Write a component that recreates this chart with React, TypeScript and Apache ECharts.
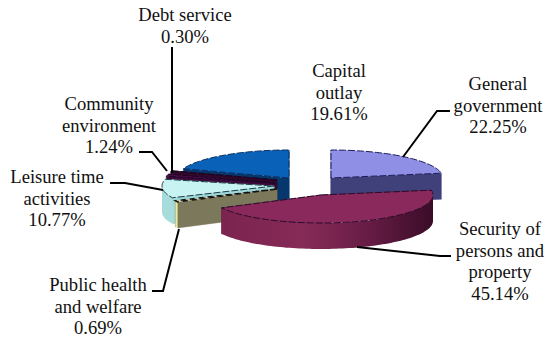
import React, { useEffect, useRef } from "react";
import * as echarts from "echarts";

// Share of expenditure per function, clockwise from twelve o'clock.
const names = [
  "General\ngovernment",
  "Security of\npersons and\nproperty",
  "Public health\nand welfare",
  "Leisure time\nactivities",
  "Community\nenvironment",
  "Debt service",
  "Capital\noutlay",
];
const shares = [22.25, 45.14, 0.69, 10.77, 1.24, 0.3, 19.61];

// Slices are painted back to front so nearer ones cover farther ones.
const paintOrder = [6, 5, 4, 0, 3, 2, 1];

const RX = 112;
const RY = 28;
const DEPTH = 26;
const FONT = "'Liberation Serif', 'Times New Roman', serif";

// Where each exploded slice has its apex on the page.
const apex: [number, number][] = [
  [331, 178],
  [321, 195],
  [277, 189],
  [274, 186],
  [275, 183],
  [277, 180],
  [289, 178],
];

type Look = {
  top: string;
  cut: string;
  rim: string | [string, number][];
  edge: string;
  dash: number[];
  width: number;
};
const looks: Look[] = [
  { top: "#8f8fe6", cut: "#40407a", rim: "#40407a", edge: "#1c1c5c", dash: [7, 2], width: 1 },
  {
    top: "#8a2a5c",
    cut: "#5c1a3e",
    rim: [
      ["#7c2450", 0],
      ["#862a58", 0.4],
      ["#661c44", 0.7],
      ["#3a0c28", 1],
    ],
    edge: "#2a0c2c",
    dash: [7, 2],
    width: 1,
  },
  { top: "#e8e8c8", cut: "#7c785c", rim: "#ecec9c", edge: "#141414", dash: [5, 4], width: 1.5 },
  { top: "#c8f3f3", cut: "#9ed8d8", rim: "#a6dcdc", edge: "#203c44", dash: [7, 2], width: 1 },
  { top: "#520c44", cut: "#3c0a3a", rim: "#3c0a3a", edge: "#1c0628", dash: [7, 2], width: 1 },
  { top: "#700a30", cut: "#300828", rim: "#300828", edge: "#1c0628", dash: [7, 2], width: 1 },
  { top: "#0a62b8", cut: "#06386e", rim: "#06386e", edge: "#062c60", dash: [7, 2], width: 1 },
];

// Label blocks: centre x and top of the block.
const labelPos: [number, number][] = [
  [498, 73],
  [500, 218],
  [98, 274],
  [57, 166],
  [109, 93],
  [185, 4],
  [339, 60],
];

const leaders: [number, number][][] = [
  [[403, 157], [437, 111], [450, 111]],
  [[357, 247], [440, 256], [451, 256]],
  [[179, 229], [163, 291], [152, 291]],
  [[110, 183], [125, 183], [163, 190]],
  [[139, 152], [152, 152], [167, 171]],
  [[172, 47], [172, 173]],
];

const starts = shares.map((_, i) => shares.slice(0, i).reduce((a, b) => a + b, 0));
const toAngle = (pct: number) => (pct / 100) * Math.PI * 2;

function rimPoint(c: [number, number], a: number, drop = 0): number[] {
  return [c[0] + RX * Math.sin(a), c[1] - RY * Math.cos(a) + drop];
}

function arc(c: [number, number], a0: number, a1: number, drop = 0): number[][] {
  const n = Math.max(2, Math.ceil(Math.abs(a1 - a0) / 0.03));
  const pts: number[][] = [];
  for (let i = 0; i <= n; i++) pts.push(rimPoint(c, a0 + ((a1 - a0) * i) / n, drop));
  return pts;
}

function drawSlice(params: any) {
  const idx = paintOrder[params.dataIndex];
  const c = apex[idx];
  const a0 = toAngle(starts[idx]);
  const a1 = toAngle(starts[idx] + shares[idx]);
  const look = looks[idx];
  const children: any[] = [];

  const cutWall = (a: number) => {
    const p = rimPoint(c, a);
    return {
      type: "polygon",
      shape: { points: [c, p, [p[0], p[1] + DEPTH], [c[0], c[1] + DEPTH]] },
      style: { fill: look.cut, stroke: look.cut, lineWidth: 0.5 },
    };
  };
  children.push(cutWall(a1), cutWall(a0));

  // Only the part of the rim facing the viewer shows.
  const r0 = Math.max(a0, Math.PI / 2);
  const r1 = Math.min(a1, (Math.PI * 3) / 2);
  if (r1 > r0) {
    const up = arc(c, r0, r1);
    const down = arc(c, r1, r0, DEPTH);
    const fill =
      typeof look.rim === "string"
        ? look.rim
        : new echarts.graphic.LinearGradient(
            up[up.length - 1][0],
            0,
            up[0][0],
            0,
            look.rim.map(([color, offset]) => ({ color, offset })),
            true,
          );
    children.push({
      type: "polygon",
      shape: { points: [...up, ...down] },
      style: { fill, stroke: "none" },
    });
  }

  children.push({
    type: "polygon",
    shape: { points: [c, ...arc(c, a0, a1)] },
    style: { fill: look.top, stroke: look.edge, lineWidth: look.width, lineDash: look.dash },
  });
  return { type: "group", children };
}

export default function App() {
  const ref = useRef<HTMLDivElement>(null);

  useEffect(() => {
    const chart = echarts.init(ref.current!, undefined, { renderer: "svg" });
    chart.setOption({
      animation: false,
      backgroundColor: "#ffffff",
      series: [
        {
          type: "custom",
          coordinateSystem: "none",
          silent: true,
          data: paintOrder.map((i) => shares[i]),
          renderItem: drawSlice,
        },
      ],
      graphic: [
        ...leaders.map((points) => ({
          type: "polyline",
          shape: { points },
          style: { stroke: "#000000", lineWidth: 2, fill: "none" },
          z: 10,
        })),
        ...names.map((name, i) => ({
          type: "text",
          x: labelPos[i][0],
          y: labelPos[i][1],
          z: 11,
          style: {
            text: `${name}\n${shares[i].toFixed(2)}%`,
            font: `18.6px ${FONT}`,
            fill: "#111111",
            align: "center",
            verticalAlign: "top",
            lineHeight: 21.5,
          },
        })),
      ],
    });
    return () => chart.dispose();
  }, []);

  return (
    <div
      ref={ref}
      style={{ position: "absolute", left: 0, top: 0, width: 548, height: 339 }}
    />
  );
}
